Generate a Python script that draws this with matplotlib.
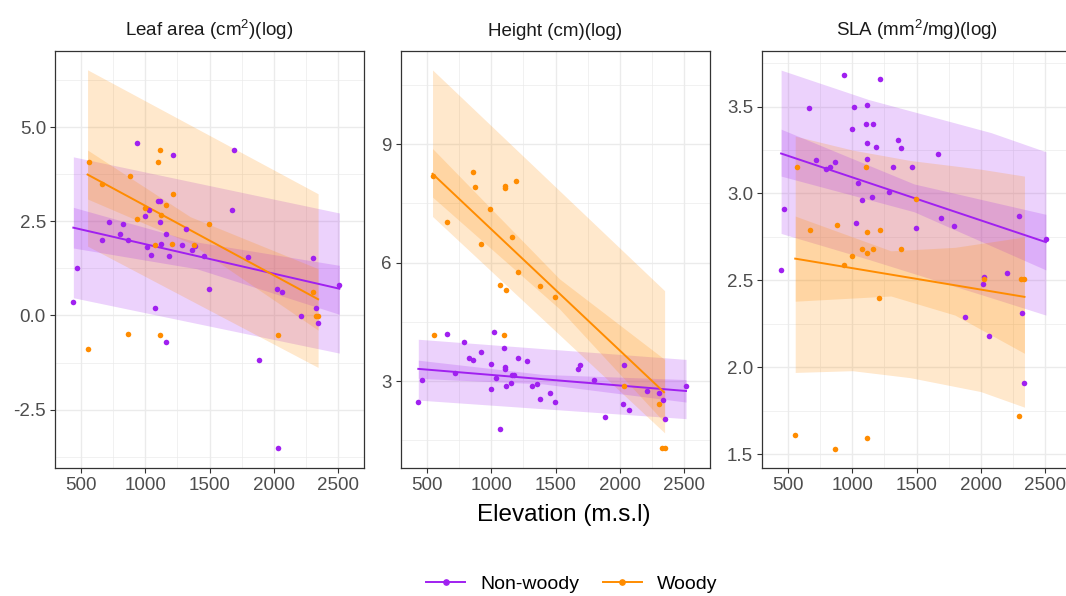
import matplotlib
matplotlib.use("Agg")
import matplotlib.pyplot as plt
from matplotlib.lines import Line2D

plt.rcParams['font.family'] = ['Liberation Sans', 'DejaVu Sans']
plt.rcParams['mathtext.fontset'] = 'custom'
plt.rcParams['mathtext.rm'] = 'Liberation Sans'
plt.rcParams['mathtext.it'] = 'Liberation Sans:italic'

PURPLE = "#A020F0"
ORANGE = "#FF8C00"

titles = [r"Leaf area (cm$^2$)(log)", "Height (cm)(log)", r"SLA (mm$^2$/mg)(log)"]
group_labels = ["Non-woody", "Woody"]

# ---- Leaf area ----
la_nw_x = [467, 932, 1694, 1216, 1102, 1115, 1030, 998, 1673, 717, 828, 1112, 800, 665, 867, 1164, 1316,
           1012, 1120, 1283, 1360, 1384, 1040, 1184, 1461, 1797, 2304, 1494, 2025, 2066, 2513, 438, 1076,
           1157, 1885, 2211, 2332, 2347, 2033]
la_nw_y = [1.27, 4.58, 4.39, 4.26, 3.04, 3.04, 2.80, 2.65, 2.79, 2.49, 2.43, 2.47, 2.17, 2.01, 1.99, 2.16,
           2.29, 1.83, 1.89, 1.87, 1.73, 1.85, 1.61, 1.57, 1.59, 1.55, 1.53, 0.70, 0.71, 0.63, 0.81, 0.37,
           0.185, -0.71, -1.19, -0.01, 0.20, -0.21, -3.53]
la_w_x = [560, 663, 880, 1112, 1102, 1216, 1161, 998, 1120, 932, 1494, 1076, 1205, 1378, 2304, 549, 867,
          1115, 2035, 2329, 2345]
la_w_y = [4.07, 3.49, 3.70, 4.38, 4.07, 3.23, 2.94, 2.86, 2.66, 2.57, 2.42, 1.86, 1.90, 1.86, 0.63, -0.88,
          -0.49, -0.53, -0.51, -0.01, -0.01]
la_nw_fit = ([438, 2513], [2.33, 0.71])
la_w_fit = ([549, 2347], [3.74, 0.43])
la_nw_pi = ([438, 2513], [0.47, -1.00], [4.21, 2.72])
la_nw_ci = ([438, 1400, 2513], [1.79, 1.24, 0.03], [2.87, 1.95, 1.33])
la_w_pi = ([549, 2347], [1.84, -1.38], [6.52, 3.23])
la_w_ci = ([549, 1350, 2347], [3.09, 1.92, -0.39], [4.39, 2.62, 1.24])

# ---- Height ----
h_nw_x = [430, 459, 654, 713, 789, 823, 857, 922, 995, 1021, 1000, 1036, 1099, 1107, 1107, 1115, 1154,
          1159, 1174, 1068, 1208, 1279, 1313, 1357, 1380, 1458, 1497, 1672, 1690, 1799, 1888, 2034, 2023,
          2070, 2211, 2307, 2336, 2352, 2518]
h_nw_y = [2.48, 3.04, 4.20, 3.21, 3.99, 3.58, 3.54, 3.73, 3.43, 4.25, 2.81, 3.08, 3.85, 3.37, 3.31, 2.88,
          2.96, 3.15, 3.15, 1.78, 3.58, 3.50, 2.88, 2.93, 2.54, 2.70, 2.46, 3.30, 3.40, 3.02, 2.08, 3.41,
          2.41, 2.28, 2.75, 2.69, 2.51, 2.04, 2.87]
h_w_x = [541, 857, 873, 1104, 1109, 1195, 651, 992, 922, 1159, 1208, 1068, 1112, 1377, 1497, 552, 1096,
         2034, 2307, 2333, 2351]
h_w_y = [8.19, 8.29, 7.92, 7.94, 7.89, 8.07, 7.04, 7.35, 6.48, 6.66, 5.77, 5.43, 5.30, 5.42, 5.13, 4.18,
         4.16, 2.87, 2.43, 1.30, 1.30]
h_nw_fit = ([430, 2518], [3.31, 2.75])
h_w_fit = ([541, 2346], [8.25, 2.72])
h_nw_pi = ([430, 2518], [2.52, 2.05], [4.06, 3.55])
h_nw_ci = ([430, 1400, 2518], [3.07, 2.93, 2.47], [3.53, 3.17, 3.04])
h_w_pi = ([541, 2351], [7.17, 1.69], [10.88, 5.29])
h_w_ci = ([541, 1531, 2351], [7.66, 4.83, 1.95], [8.89, 5.59, 3.55])

# ---- SLA ----
s_nw_x = [932, 1215, 665, 1009, 1112, 999, 1105, 1163, 1357, 1380, 1112, 1181, 1668, 1115, 719, 865, 796,
          829, 1313, 1462, 1043, 1282, 1156, 1075, 469, 1031, 1498, 1688, 1790, 2297, 2509, 444, 2025,
          2018, 2205, 1879, 2324, 2062, 2339]
s_nw_y = [3.68, 3.66, 3.49, 3.50, 3.51, 3.37, 3.40, 3.40, 3.31, 3.26, 3.29, 3.27, 3.23, 3.20, 3.19, 3.18,
          3.14, 3.15, 3.15, 3.15, 3.06, 3.01, 2.98, 2.96, 2.91, 2.83, 2.80, 2.86, 2.81, 2.87, 2.74, 2.56,
          2.52, 2.48, 2.54, 2.29, 2.31, 2.18, 1.91]
s_w_x = [569, 1103, 1498, 667, 878, 1117, 1215, 1075, 1163, 1380, 1111, 999, 932, 2025, 2318, 2339, 1205,
         2297, 549, 865, 1112]
s_w_y = [3.15, 3.15, 2.97, 2.79, 2.82, 2.78, 2.79, 2.68, 2.68, 2.68, 2.66, 2.64, 2.59, 2.51, 2.51, 2.51,
         2.40, 1.72, 1.61, 1.53, 1.59]
s_nw_fit = ([444, 2509], [3.23, 2.72])
s_w_fit = ([554, 2342], [2.625, 2.405])
s_nw_pi = ([444, 1129, 2082, 2509], [2.77, 2.62, 2.40, 2.30], [3.71, 3.54, 3.35, 3.24])
s_nw_ci = ([444, 1480, 2509], [3.10, 2.895, 2.56], [3.37, 3.055, 2.88])
s_w_pi = ([554, 1000, 1450, 2000, 2342], [1.97, 1.98, 1.94, 1.86, 1.77], [3.33, 3.25, 3.19, 3.14, 3.10])
s_w_ci = ([554, 1300, 1800, 2342], [2.38, 2.41, 2.30, 2.08], [2.87, 2.67, 2.69, 2.75])

panels = [
    dict(nw=(la_nw_x, la_nw_y), w=(la_w_x, la_w_y), nw_fit=la_nw_fit, w_fit=la_w_fit,
         nw_pi=la_nw_pi, nw_ci=la_nw_ci, w_pi=la_w_pi, w_ci=la_w_ci,
         ylim=(-4.05, 7.02), yt=[-2.5, 0, 2.5, 5.0], ylab=["-2.5", "0.0", "2.5", "5.0"],
         ym=[-3.75, -1.25, 1.25, 3.75, 6.25]),
    dict(nw=(h_nw_x, h_nw_y), w=(h_w_x, h_w_y), nw_fit=h_nw_fit, w_fit=h_w_fit,
         nw_pi=h_nw_pi, nw_ci=h_nw_ci, w_pi=h_w_pi, w_ci=h_w_ci,
         ylim=(0.80, 11.36), yt=[3, 6, 9], ylab=["3", "6", "9"], ym=[1.5, 4.5, 7.5, 10.5]),
    dict(nw=(s_nw_x, s_nw_y), w=(s_w_x, s_w_y), nw_fit=s_nw_fit, w_fit=s_w_fit,
         nw_pi=s_nw_pi, nw_ci=s_nw_ci, w_pi=s_w_pi, w_ci=s_w_ci,
         ylim=(1.42, 3.82), yt=[1.5, 2.0, 2.5, 3.0, 3.5], ylab=["1.5", "2.0", "2.5", "3.0", "3.5"],
         ym=[1.75, 2.25, 2.75, 3.25, 3.75]),
]

W, H = 1066, 596
fig = plt.figure(figsize=(W / 100, H / 100), dpi=100)
lefts = [55, 401, 762]
pw, top, bottom = 309, 51, 468

for i, p in enumerate(panels):
    ax = fig.add_axes([lefts[i] / W, 1 - bottom / H, pw / W, (bottom - top) / H])
    ax.set_xlim(295, 2705)
    ax.set_ylim(*p["ylim"])
    ax.set_xticks([500, 1000, 1500, 2000, 2500])
    ax.set_xticks([750, 1250, 1750, 2250], minor=True)
    ax.set_yticks(p["yt"])
    ax.set_yticklabels(p["ylab"])
    ax.set_yticks(p["ym"], minor=True)
    ax.grid(which="major", color="#EBEBEB", lw=1.0, zorder=0)
    ax.grid(which="minor", color="#EBEBEB", lw=0.5, zorder=0)
    ax.set_axisbelow(True)
    ax.tick_params(which="major", length=3.5, width=0.8, color="#333333", labelsize=13.5,
                   labelcolor="#4D4D4D", pad=3)
    ax.tick_params(which="minor", length=0)
    for s in ax.spines.values():
        s.set_color("#333333")
        s.set_linewidth(0.9)

    # prediction bands, then confidence bands, then fitted lines, then points
    for key, col in (("nw", PURPLE), ("w", ORANGE)):
        bx, lo, hi = p[key + "_pi"]
        ax.fill_between(bx, lo, hi, color=col, alpha=0.2, lw=0, zorder=1)
    for key, col in (("nw", PURPLE), ("w", ORANGE)):
        bx, lo, hi = p[key + "_ci"]
        ax.fill_between(bx, lo, hi, color=col, alpha=0.2, lw=0, zorder=2)
    for key, col in (("nw", PURPLE), ("w", ORANGE)):
        fx, fy = p[key + "_fit"]
        ax.plot(fx, fy, color=col, lw=1.4, zorder=3)
    for key, col in (("nw", PURPLE), ("w", ORANGE)):
        px, py = p[key]
        ax.scatter(px, py, s=16, color=col, lw=0, zorder=4)

    ax.set_title(titles[i], fontsize=13.5, color="#1A1A1A", pad=11)

fig.text(564 / W, 1 - 515 / H, "Elevation (m.s.l)", ha="center", va="center", fontsize=17.5,
         color="black")

handles = [Line2D([], [], color=c, lw=1.4, marker="o", markersize=3.8) for c in (PURPLE, ORANGE)]
fig.legend(handles, group_labels, loc="center", bbox_to_anchor=(572 / W, 1 - 584 / H), ncol=2,
           frameon=False, fontsize=14, handlelength=2.0, columnspacing=1.2, handletextpad=0.8)

fig.savefig("out.png", dpi=100)
